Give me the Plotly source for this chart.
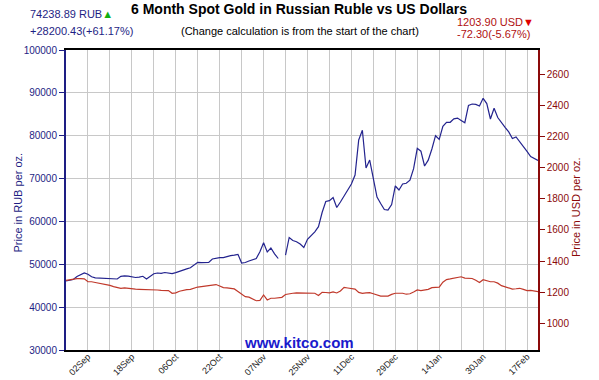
import pandas as pd
import plotly.graph_objects as go

# ---- data ----
dates = [d.strftime("%Y-%m-%d") for d in pd.bdate_range("2014-08-25", "2015-02-20")]

rub = [46100, 46220, 46450, 47150, 47620, 47970, 47660, 47080, 46820, 46800,
       46750, 46660, 46710, 46640, 46570, 47200, 47310, 47220, 47060, 46920,
       46990, 47200, 46570, 47270, 47800, 47970, 47900, 48080, 47920, 47830,
       48060, 48290, 48640, 48920, 49180, 49930, 50460, 50370, 50420, 50440,
       51230, 51470, 51540, 51540, 51820, 52000, 52120, 52310, 50300, 50420,
       50770, 51000, 51350, 52940, 55040, 52870, 53800, 52450, 51350, None,
       52120, 56250, 55550, 55270, 54730, 53920, 55830, 56720, 57580, 58770,
       62080, 64650, 64840, 65580, 63250, 64530, 66000, 67330, 68730, 70830,
       79000, 81260, 72470, 74330, 70370, 65700, 64180, 62780, 62670, 63950,
       68270, 67330, 68730, 68900, 69620, 72300, 77060, 76390, 72930, 74290,
       76900, 80000, 79160, 82170, 83130, 83130, 83950, 84110, 83570, 83040,
       87050, 87400, 87310, 86930, 88730, 87490, 83900, 86400, 84250, 82970,
       81960, 80890, 79330, 79720, 78600, 77720, 76340, 75130, 74730, 74238.89]

usd = [1276.2, 1280, 1285, 1287, 1287, 1286, 1267, 1267, 1262, 1258,
       1254, 1250, 1244, 1236, 1229, 1225, 1228, 1224, 1220, 1219,
       1218, 1218, 1217, 1214, 1215, 1214, 1211, 1210, 1210, 1193,
       1196, 1206, 1213, 1216, 1218, 1227, 1233, 1236, 1240, 1241,
       1245, 1249, 1240, 1229, 1227, 1224, 1221, 1205, 1186, 1171,
       1168, 1159, 1145, 1147, 1182, 1150, 1161, 1161, 1163, 1167,
       1185, 1191, 1193, 1195, 1195, 1193, 1196, 1195, 1193, 1179,
       1199, 1198, 1196, 1202, 1195, 1208, 1231, 1227, 1223, 1220,
       1199, 1193, 1195, 1197, 1190, 1182, 1175, 1175, 1175, 1186,
       1193, 1193, 1193, 1187, 1190, 1201, 1214, 1210, 1212, 1218,
       1229, 1229, 1232, 1264, 1281, 1285, 1290, 1298, 1299, 1290,
       1287, 1288, 1276, 1262, 1280, 1274, 1267, 1267, 1258, 1242,
       1233, 1228, 1220, 1222, 1225, 1218, 1210, 1211, 1209, 1203.90]

tick_labels = ["02Sep", "18Sep", "06Oct", "22Oct", "07Nov", "25Nov",
               "11Dec", "29Dec", "14Jan", "30Jan", "17Feb"]
rub_ticks = [30000, 40000, 50000, 60000, 70000, 80000, 90000, 100000]
usd_ticks = [1000, 1200, 1400, 1600, 1800, 2000, 2200, 2400, 2600]

# ---- style ----
FONT = "Liberation Sans, Arial, sans-serif"
NAVY = "#1e1e84"
DRED = "#8b0a0a"
W, H = 599, 380
L, R, T, B = 66, 61, 50, 30

# grid every 6 weekdays starting at 02Sep, labels every 12
grid_vals = dates[6:127:6]
grid_text = []
k = 0
for j, d in enumerate(grid_vals):
    if j % 2 == 0:
        grid_text.append(tick_labels[k])
        k += 1
    else:
        grid_text.append("")

fig = go.Figure()
fig.add_trace(go.Scatter(x=dates, y=usd, mode="lines", yaxis="y2",
                         line=dict(color="#c0392b", width=1.2),
                         connectgaps=False, hoverinfo="skip"))
fig.add_trace(go.Scatter(x=dates, y=rub, mode="lines", yaxis="y",
                         line=dict(color="#23238e", width=1.2),
                         connectgaps=False, hoverinfo="skip"))


def px(x):
    return (x - L) / (W - L - R)


def py(y):
    return (H - B - y) / (H - T - B)


ann = [
    dict(x=px(299), y=py(9), text="<b>6 Month Spot Gold in Russian Ruble vs US Dollars</b>",
         font=dict(size=14, color="#000000"), xanchor="center"),
    dict(x=px(300), y=py(31), text="(Change calculation is from the start of the chart)",
         font=dict(size=11, color="#000000"), xanchor="center"),
    dict(x=px(28), y=py(14), text="74238.89 RUB<span style='color:#10b010'>▲</span>",
         font=dict(size=11, color=NAVY), xanchor="left"),
    dict(x=px(28), y=py(31), text="+28200.43(+61.17%)",
         font=dict(size=11, color=NAVY), xanchor="left"),
    dict(x=px(455), y=py(22), text="1203.90 USD<span style='color:#e00000'>▼</span>",
         font=dict(size=11, color="#b01010"), xanchor="left"),
    dict(x=px(455), y=py(34), text="-72.30(-5.67%)",
         font=dict(size=11, color="#b01010"), xanchor="left"),
    dict(x=px(299), y=py(342), text="<b>www.kitco.com</b>",
         font=dict(size=15, color="#1a1acc"), xanchor="center"),
    dict(x=px(17.5), y=py(203), text="Price in RUB per oz.", textangle=-90,
         font=dict(size=11, color=NAVY), xanchor="center"),
    dict(x=px(576), y=py(207), text="Price in USD per oz.", textangle=-90,
         font=dict(size=11, color=DRED), xanchor="center"),
]
for a in ann:
    a.update(xref="paper", yref="paper", showarrow=False, yanchor="middle")

fig.update_layout(
    width=W, height=H,
    margin=dict(l=L, r=R, t=T, b=B, pad=0),
    paper_bgcolor="white", plot_bgcolor="white",
    font=dict(family=FONT, size=10, color="#000000"),
    showlegend=False,
    annotations=ann,
    xaxis=dict(type="category", range=[0, len(dates) - 1],
               tickmode="array", tickvals=grid_vals, ticktext=grid_text,
               tickangle=-45, tickfont=dict(size=9, color="#222222"),
               ticklabelstandoff=-4,
               showgrid=True, gridcolor="#c8c8c8", gridwidth=1,
               showline=True, linecolor="#000000", linewidth=2, mirror=True,
               ticks="", zeroline=False, automargin=False, fixedrange=True),
    yaxis=dict(range=[30000, 100000], tickmode="array", tickvals=rub_ticks,
               tickformat="d", tickfont=dict(size=10, color=NAVY),
               showgrid=True, gridcolor="#c8c8c8", gridwidth=1,
               showline=True, linecolor=NAVY, linewidth=2,
               ticks="outside", ticklen=5, tickcolor=NAVY,
               zeroline=False, automargin=False, fixedrange=True),
    yaxis2=dict(range=[829, 2754], overlaying="y", side="right",
                tickmode="array", tickvals=usd_ticks, tickformat="d",
                tickfont=dict(size=10, color=DRED),
                showgrid=False, showline=True, linecolor=DRED, linewidth=1.5,
                ticks="outside", ticklen=5, tickcolor=DRED,
                zeroline=False, automargin=False, fixedrange=True),
)

fig.write_html("out.html", config={"displayModeBar": False},
               post_script="document.body.style.margin='0px';document.body.style.padding='0px';")
